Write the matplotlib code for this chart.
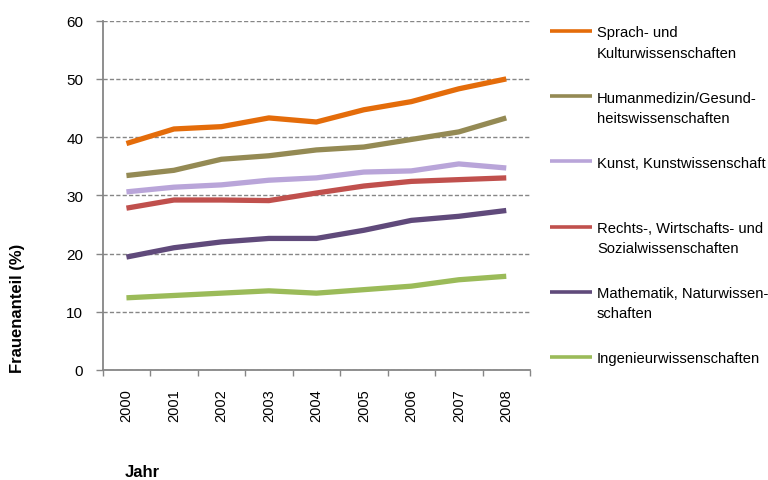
import numpy as np
import matplotlib
matplotlib.use("Agg")
import matplotlib.pyplot as plt
from matplotlib.lines import Line2D

plt.rcParams['font.family'] = ['Liberation Sans', 'DejaVu Sans']

years = ["2000", "2001", "2002", "2003", "2004", "2005", "2006", "2007", "2008"]

sprach = [38.9, 41.4, 41.8, 43.3, 42.6, 44.7, 46.1, 48.3, 50.0]
human = [33.4, 34.3, 36.2, 36.8, 37.8, 38.3, 39.6, 40.9, 43.3]
kunst = [30.6, 31.4, 31.8, 32.6, 33.0, 34.0, 34.2, 35.4, 34.7]
rechts = [27.8, 29.2, 29.2, 29.1, 30.4, 31.6, 32.4, 32.7, 33.0]
mathe = [19.4, 21.0, 22.0, 22.6, 22.6, 24.0, 25.7, 26.4, 27.4]
ingenieur = [12.4, 12.8, 13.2, 13.6, 13.2, 13.8, 14.4, 15.5, 16.1]

labels = [
    "Sprach- und\nKulturwissenschaften",
    "Humanmedizin/Gesund-\nheitswissenschaften",
    "Kunst, Kunstwissenschaft",
    "Rechts-, Wirtschafts- und\nSozialwissenschaften",
    "Mathematik, Naturwissen-\nschaften",
    "Ingenieurwissenschaften",
]
series = [sprach, human, kunst, rechts, mathe, ingenieur]
colors = ["#E46C0A", "#948A54", "#B9A5D9", "#C0504D", "#604A7B", "#9BBB59"]

W, H = 768, 481
fig = plt.figure(figsize=(W / 100, H / 100), dpi=100)
ax = fig.add_axes([102.7 / W, 1 - 371 / H, (530 - 102.7) / W, (371 - 21.7) / H])

x = np.arange(len(years))
for vals, col in zip(series, colors):
    ax.plot(x, vals, color=col, lw=3.8, solid_capstyle="butt", zorder=3)

grey = "#868686"
ax.set_ylim(0, 60)
ax.set_xlim(-0.5, len(years) - 0.5)
ax.set_yticks(range(0, 61, 10))
ax.yaxis.grid(True, color=grey, lw=1.0, linestyle=(0, (3, 1.6)))
ax.set_axisbelow(True)

ax.set_xticks(x)
ax.set_xticklabels(years, rotation=90)
ax.set_xticks(np.arange(-0.5, len(years)), minor=True)
ax.tick_params(axis="x", which="major", length=0, pad=13, labelsize=10.5)
ax.tick_params(axis="x", which="minor", length=4, color=grey, width=1)
ax.tick_params(axis="y", length=5, color=grey, width=1, pad=9, labelsize=11)

for side in ("top", "right"):
    ax.spines[side].set_visible(False)
for side in ("left", "bottom"):
    ax.spines[side].set_color(grey)
    ax.spines[side].set_linewidth(1.3)

fig.text(18 / W, 1 - 308 / H, "Frauenanteil (%)", rotation=90, ha="center",
         va="center", fontsize=12, fontweight="bold")
fig.text(125 / W, 1 - 473 / H, "Jahr", ha="left", va="center",
         fontsize=12, fontweight="bold")

# legend drawn by hand so the line sits next to the first text row
for i, (lab, col) in enumerate(zip(labels, colors)):
    yl = 32 + i * 65.2
    fig.add_artist(Line2D([550 / W, 592 / W], [1 - yl / H, 1 - yl / H],
                          color=col, lw=2.6, solid_capstyle="butt"))
    fig.text(597 / W, 1 - (yl - 5.5) / H, lab, ha="left", va="top",
             fontsize=10.6, linespacing=1.55)

fig.savefig("out.png", dpi=100)
